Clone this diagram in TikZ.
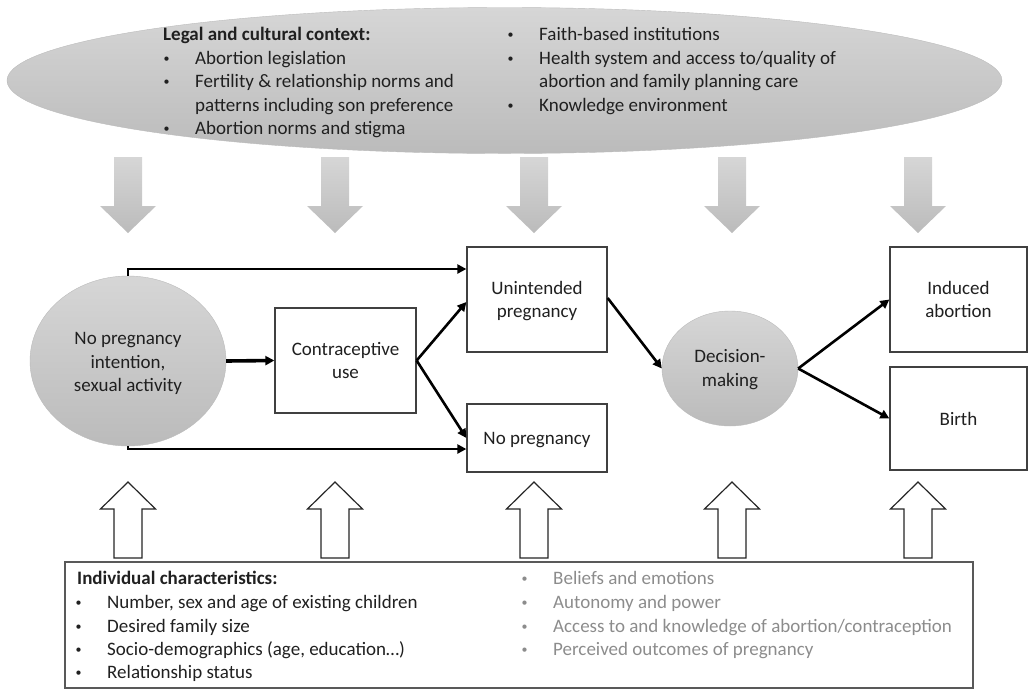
\documentclass[tikz,border=0pt]{standalone}
\usepackage{fontspec}
\setmainfont{Carlito}
\usetikzlibrary{arrows.meta,shapes.geometric,calc}
\definecolor{boxline}{HTML}{404040}
\definecolor{softgray}{HTML}{8C8C8C}
\definecolor{ellTop}{HTML}{D6D6D6}
\definecolor{ellBot}{HTML}{BBBBBB}
\definecolor{textdark}{HTML}{202020}
\newcommand{\bul}{\makebox[33pt][l]{\hspace*{1.5pt}\raisebox{1.8pt}{\fontsize{12}{12}\selectfont\textbullet}}}
\newcommand{\mlines}[2]{\raisebox{-#1}[\height][\depth]{\begin{tabular}{@{}c@{}}#2\end{tabular}}}
\begin{document}
\fontsize{19}{23.5}\selectfont
\begin{tikzpicture}[x=1pt,y=-1pt,
  txt/.style={anchor=base west, inner sep=0pt, text=textdark},
  gtxt/.style={anchor=base west, inner sep=0pt, text=softgray},
  grayell/.style={ellipse, draw=ellBot, line width=0.4pt, top color=ellTop, bottom color=ellBot, inner sep=0pt, align=center, text=textdark},
  whitebox/.style={rectangle, draw=boxline, line width=1.3pt, fill=white, inner sep=0pt, align=center, text=textdark},
  flow/.style={line width=2.6pt, -{Triangle[length=9pt,width=9pt]}},
  dnarrow/.style={top color=ellTop, bottom color=ellBot, draw=none},
  uparrow/.style={fill=white, draw=black!85, line width=1.2pt, line join=miter}
]
\useasboundingbox (0,0) rectangle (1028,689);

% context ellipse
\node[grayell, minimum width=995pt, minimum height=146pt] (ctx) at (504.5,80.5) {};
\node[txt, font=\bfseries] (c0) at (163,40.5) {Legal and cultural context:};
\node[txt] (c1) at (162,64) {\bul Abortion legislation};
\node[txt] (c2) at (162,87.5) {\bul Fertility \& relationship norms and};
\node[txt] (c3) at (195,111) {patterns including son preference};
\node[txt] (c4) at (162,134.5) {\bul Abortion norms and stigma};
\node[txt] (d1) at (506,40.5) {\bul Faith-based institutions};
\node[txt] (d2) at (506,64) {\bul Health system and access to/quality of};
\node[txt] (d3) at (539,87.5) {abortion and family planning care};
\node[txt] (d4) at (506,111) {\bul Knowledge environment};

% down arrows
\foreach \cx in {128,335,534,732,918} {
  \path[dnarrow] (\cx-14,157) -- (\cx+14,157) -- (\cx+14,206) -- (\cx+28,206) -- (\cx,233) -- (\cx-28,206) -- (\cx-14,206) -- cycle;
}

% up arrows
\foreach \cx in {128,335,534,732,918} {
  \draw[uparrow] (\cx-14,558) -- (\cx-14,509) -- (\cx-27.5,509) -- (\cx,482) -- (\cx+27.5,509) -- (\cx+14,509) -- (\cx+14,558) -- cycle;
}

% flow nodes
\node[grayell, minimum width=196pt, minimum height=170pt] (np) at (128,361) {\mlines{2.5pt}{No pregnancy\\intention,\\sexual activity}};
\node[whitebox, minimum width=141pt, minimum height=105pt] (cu) at (345.5,360.5) {\mlines{2pt}{Contraceptive\\use}};
\node[whitebox, minimum width=140pt, minimum height=105pt] (up) at (537,299.5) {\mlines{2pt}{Unintended\\pregnancy}};
\node[whitebox, minimum width=140pt, minimum height=68pt] (nop) at (537,438) {\mlines{1.5pt}{No pregnancy}};
\node[grayell, minimum width=136pt, minimum height=115pt] (dm) at (730,368.5) {\mlines{1.5pt}{Decision-\\making}};
\node[whitebox, minimum width=137pt, minimum height=105pt] (ia) at (958.5,299.5) {\mlines{2pt}{Induced\\abortion}};
\node[whitebox, minimum width=137pt, minimum height=103pt] (bi) at (958.5,418.5) {Birth};

% connectors
\draw[flow] (np.north) |- ([yshift=30.5pt]up.west);
\draw[flow] (np.south) |- ([yshift=-11pt]nop.west);
\draw[flow, line width=3.6pt] (np.east) -- (cu.west);
\draw[flow] (cu.east) -- ([yshift=-2.5pt]up.west);
\draw[flow] (cu.east) -- (nop.west);
\draw[flow] ([yshift=1.5pt]up.east) -- (dm.west);
\draw[flow] (dm.east) -- (ia.west);
\draw[flow] (dm.east) -- (bi.west);

% individual characteristics box
\node[rectangle, draw=black!65, line width=1.3pt, minimum width=908pt, minimum height=126pt, inner sep=0pt] (ind) at (519,625) {};
\node[txt, font=\bfseries] (i0) at (77,584) {Individual characteristics:};
\node[txt] (i1) at (74,608) {\bul Number, sex and age of existing children};
\node[txt] (i2) at (74,632) {\bul Desired family size};
\node[txt] (i3) at (74,655) {\bul Socio-demographics (age, education\ldots)};
\node[txt] (i4) at (74,678) {\bul Relationship status};
\node[gtxt] (j1) at (520,584) {\bul Beliefs and emotions};
\node[gtxt] (j2) at (520,608) {\bul Autonomy and power};
\node[gtxt] (j3) at (520,632) {\bul Access to and knowledge of abortion/contraception};
\node[gtxt] (j4) at (520,655) {\bul Perceived outcomes of pregnancy};
\end{tikzpicture}
\end{document}
